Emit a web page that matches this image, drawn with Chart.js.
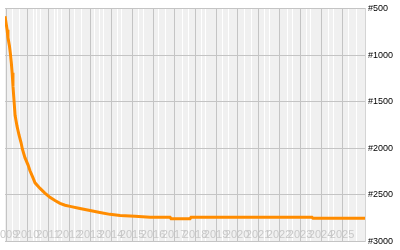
<!DOCTYPE html>
<html>
<head>
<meta charset="utf-8">
<script src="https://cdn.jsdelivr.net/npm/chart.js@4/dist/chart.umd.min.js"></script>
<style>
  html, body { margin: 0; padding: 0; background: #fff; }
  #wrap { width: 400px; height: 250px; }
</style>
</head>
<body>
<div id="wrap"><canvas id="rankChart"></canvas></div>
<script>
// year labels along the bottom
const yearLabels = ['2009', '2010', '2011', '2012', '2013', '2014', '2015', '2016', '2017',
    '2018', '2019', '2020', '2021', '2022', '2023', '2024', '2025'];

// sample dates (fractional years) and the rank at each one
const dates = [2008.95, 2009.00, 2009.05, 2009.09, 2009.16, 2009.21, 2009.25, 2009.29,
    2009.33, 2009.38, 2009.43, 2009.52, 2009.62, 2009.71, 2009.78, 2009.90, 2010.05,
    2010.14, 2010.28, 2010.38, 2010.62, 2010.85, 2011.09, 2011.33, 2011.57, 2011.81, 2012.05,
    2012.52, 2013.00, 2013.47, 2013.95, 2014.43, 2015.14, 2015.86, 2016.81, 2016.86, 2017.76,
    2017.81, 2023.57, 2023.62, 2026.10];
const ranks = [583, 656, 729, 813, 900, 990, 1080, 1190,
    1333, 1490, 1646, 1760, 1860, 1935, 2010, 2100, 2180,
    2240, 2315, 2370, 2430, 2480, 2525, 2560, 2590, 2610, 2622,
    2645, 2667, 2688, 2708, 2719, 2729, 2740, 2740, 2755, 2755,
    2740, 2740, 2750, 2750];

// rank ticks on the right
const rankTicks = [500, 1000, 1500, 2000, 2500, 3000];

// light in-between lines (fractional years)
const minorLines = [2009.33, 2009.66, 2010.33, 2010.47, 2010.62, 2011.33, 2011.47, 2011.66,
    2012.28, 2012.6, 2013.2, 2013.47, 2013.66, 2014.33, 2014.52, 2015.3, 2015.55, 2016.25,
    2016.6, 2017.4, 2017.7, 2018.3, 2018.5, 2019.3, 2019.6, 2020.35, 2020.7, 2021.3, 2021.55,
    2022.4, 2022.65, 2023.3, 2023.5, 2024.35, 2024.6, 2025.3, 2025.7];

const xMin = 2008.95;
const xMax = 2008.95 + 360 / 21;

const plotBackground = {
    id: 'plotBackground',
    beforeDraw(chart) {
        const { ctx, chartArea: a } = chart;
        ctx.save();
        ctx.fillStyle = '#f0f0f0';
        ctx.fillRect(a.left, a.top, a.right - a.left, a.bottom - a.top);
        ctx.restore();
    }
};

// x axes sit inside the plot: no height, no side padding
function flatAxis(s) {
    s.height = 0;
    s.paddingLeft = 0;
    s.paddingRight = 0;
}

const ctx = document.getElementById('rankChart').getContext('2d');
new Chart(ctx, {
    type: 'line',
    data: {
        datasets: [{
            data: dates.map((d, i) => ({ x: d, y: ranks[i] })),
            borderColor: '#ff8c00',
            borderWidth: 3,
            pointRadius: 0,
            tension: 0,
            fill: false
        }]
    },
    options: {
        responsive: true,
        maintainAspectRatio: false,
        animation: false,
        layout: { padding: { top: 5, bottom: 5, left: 5, right: 0 } },
        plugins: { legend: { display: false }, tooltip: { enabled: false } },
        scales: {
            xMinor: {
                type: 'linear',
                position: 'bottom',
                min: xMin,
                max: xMax,
                z: -1,
                afterBuildTicks: s => { s.ticks = minorLines.map(v => ({ value: v })); },
                afterFit: flatAxis,
                ticks: { display: false },
                grid: { color: '#ffffff', drawTicks: false },
                border: { display: false }
            },
            x: {
                type: 'linear',
                position: 'bottom',
                min: xMin,
                max: xMax,
                afterBuildTicks: s => { s.ticks = yearLabels.map(y => ({ value: Number(y) })); },
                afterFit: flatAxis,
                ticks: {
                    autoSkip: false,
                    maxRotation: 0,
                    mirror: true,
                    padding: 0,
                    color: '#c8c8c8',
                    font: { family: '"Liberation Sans", Arial, sans-serif', size: 11 },
                    callback: (v, i) => yearLabels[i]
                },
                grid: { color: '#c4c4c4', drawTicks: false },
                border: { color: '#c4c4c4' }
            },
            y: {
                type: 'linear',
                position: 'right',
                reverse: true,
                min: 500,
                max: 3000,
                afterBuildTicks: s => { s.ticks = rankTicks.map(v => ({ value: v })); },
                afterFit: s => { s.width = 35; },
                ticks: {
                    padding: 3,
                    color: '#000',
                    font: { family: '"Liberation Sans", Arial, sans-serif', size: 9 },
                    callback: v => '#' + v
                },
                grid: { color: '#c4c4c4', drawTicks: false },
                border: { color: '#d4d4d4' }
            }
        }
    },
    plugins: [plotBackground]
});
</script>
</body>
</html>
